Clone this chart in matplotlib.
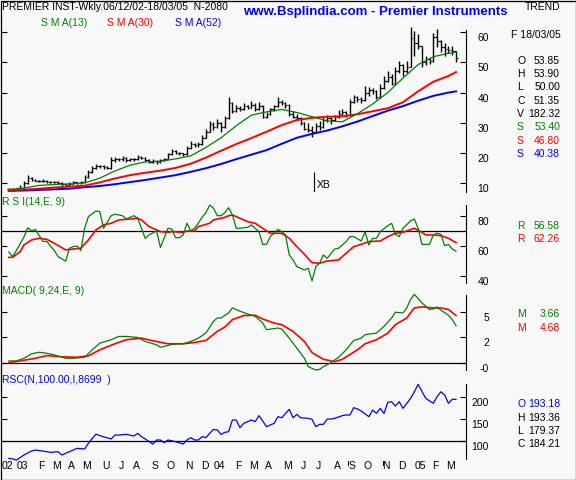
import numpy as np
import pandas as pd
import matplotlib
matplotlib.use("Agg")
import matplotlib.pyplot as plt
from matplotlib import transforms as mtrans
from matplotlib.patches import Rectangle

# ------------------------------------------------------------------ data
start_date = "2002-12-06"

open_ = [8.0, 8.0, 7.8, 8.2, 8.5, 10.0, 11.8, 11.0, 10.8, 10.5,
         10.6, 10.4, 10.2, 10.3, 10.0, 9.5, 9.2, 9.8, 10.2, 10.0,
         10.3, 12.0, 13.5, 15.0, 15.5, 15.8, 15.2, 15.0, 17.5, 18.0,
         17.8, 18.2, 17.5, 18.0, 17.9, 18.6, 18.3, 17.6, 17.0, 17.4,
         16.8, 17.5, 18.0, 19.5, 20.5, 20.0, 19.8, 19.5, 21.5, 23.0,
         22.5, 22.8, 25.0, 27.0, 29.5, 28.5, 30.0, 28.5, 31.5, 36.5,
         34.0, 35.0, 34.5, 35.5, 35.0, 36.0, 34.5, 35.5, 32.0, 33.0,
         34.5, 35.5, 37.0, 36.5, 36.0, 33.0, 32.0, 31.5, 30.0, 28.0,
         27.5, 27.0, 29.0, 28.5, 31.0, 31.5, 31.0, 32.0, 33.0, 33.5,
         32.5, 37.0, 38.5, 38.0, 37.5, 40.0, 41.0, 40.5, 38.5, 41.5,
         44.0, 45.0, 43.0, 47.0, 49.0, 47.0, 48.5, 58.0, 56.5, 55.5,
         50.0, 51.0, 50.5, 58.5, 57.0, 55.0, 54.5, 54.0, 53.85]
high = [8.3, 8.2, 8.5, 9.2, 10.5, 12.5, 12.0, 11.4, 11.0, 11.2,
        10.9, 10.6, 10.8, 10.5, 10.2, 9.8, 10.2, 10.6, 10.4, 10.8,
        12.6, 14.2, 15.6, 16.2, 16.0, 16.0, 15.6, 18.5, 18.6, 18.4,
        18.8, 18.5, 18.4, 18.3, 19.2, 19.0, 18.5, 17.8, 17.8, 17.6,
        17.9, 18.4, 20.0, 21.2, 20.8, 20.4, 20.0, 22.4, 23.8, 23.4,
        23.5, 25.8, 27.8, 30.6, 30.2, 31.2, 30.4, 32.2, 38.5, 37.0,
        36.0, 35.4, 36.6, 36.0, 37.2, 36.4, 36.8, 35.8, 33.6, 35.0,
        36.0, 38.6, 37.6, 36.8, 36.2, 34.0, 32.8, 31.8, 30.4, 30.0,
        29.0, 30.0, 30.6, 32.0, 32.4, 32.0, 32.6, 34.2, 34.4, 33.8,
        38.0, 39.2, 38.8, 38.5, 42.2, 42.0, 41.5, 41.0, 43.0, 45.5,
        47.0, 46.0, 48.5, 50.5, 49.5, 50.5, 61.8, 60.5, 59.5, 55.5,
        52.0, 51.5, 59.7, 61.0, 57.5, 56.4, 55.3, 55.5, 53.9]
low = [7.6, 7.5, 7.6, 8.0, 8.5, 9.8, 10.8, 10.5, 10.2, 10.3,
       10.1, 9.9, 10.0, 9.6, 9.1, 8.8, 9.0, 9.6, 9.7, 9.8,
       10.2, 11.8, 13.2, 14.6, 15.0, 14.8, 14.5, 14.8, 16.8, 17.2,
       17.4, 17.0, 17.2, 17.4, 17.6, 17.8, 17.2, 16.5, 16.6, 16.4,
       16.5, 17.2, 17.8, 19.2, 19.6, 19.2, 18.9, 19.3, 21.2, 22.0,
       22.0, 22.6, 24.8, 26.8, 27.6, 28.2, 27.0, 28.2, 31.2, 33.2,
       33.5, 33.8, 34.2, 34.4, 34.8, 34.0, 34.2, 31.5, 31.6, 32.6,
       34.0, 35.2, 35.8, 35.0, 32.2, 31.4, 30.8, 29.4, 27.5, 27.0,
       25.3, 26.6, 27.6, 28.2, 30.4, 29.6, 30.6, 31.6, 32.4, 31.8,
       32.2, 36.5, 36.8, 36.6, 37.2, 39.0, 39.5, 38.0, 38.2, 41.2,
       43.5, 42.5, 42.8, 46.5, 45.5, 46.5, 48.5, 52.0, 54.5, 48.6,
       49.2, 49.5, 50.2, 55.0, 53.5, 52.0, 53.1, 52.5, 50.0]
close = [8.0, 7.8, 8.2, 8.5, 10.0, 11.8, 11.0, 10.8, 10.5, 10.6,
         10.4, 10.2, 10.3, 10.0, 9.5, 9.2, 9.8, 10.2, 10.0, 10.3,
         12.0, 13.5, 15.0, 15.5, 15.8, 15.2, 15.0, 17.5, 18.0, 17.8,
         18.2, 17.5, 18.0, 17.9, 18.6, 18.3, 17.6, 17.0, 17.4, 16.8,
         17.5, 18.0, 19.5, 20.5, 20.0, 19.8, 19.5, 21.5, 23.0, 22.5,
         22.8, 25.0, 27.0, 29.5, 28.5, 30.0, 28.5, 31.5, 36.5, 34.0,
         35.0, 34.5, 35.5, 35.0, 36.0, 34.5, 35.5, 32.0, 33.0, 34.5,
         35.5, 37.0, 36.5, 36.0, 33.0, 32.0, 31.5, 30.0, 28.0, 27.5,
         27.0, 29.0, 28.5, 31.0, 31.5, 31.0, 32.0, 33.0, 33.5, 32.5,
         37.0, 38.5, 38.0, 37.5, 40.0, 41.0, 40.5, 38.5, 41.5, 44.0,
         45.0, 43.0, 47.0, 49.0, 47.0, 48.5, 58.0, 56.5, 55.5, 50.0,
         51.0, 50.5, 58.5, 57.0, 55.0, 54.5, 54.0, 53.85, 51.35]

sma_wk = [0, 4, 8, 12, 16, 20, 24, 28, 32, 36, 40, 44, 48, 52, 56, 60,
          64, 68, 72, 76, 80, 84, 88, 92, 96, 100, 104, 108, 112, 116, 118]
sma13 = [7.8, 8.3, 9.2, 9.5, 9.7, 10.0, 11.6, 14.0, 15.9, 17.0, 17.2, 18.0,
         19.0, 21.8, 25.0, 29.0, 32.5, 33.6, 34.4, 33.4, 32.0, 30.6, 30.3,
         33.0, 36.2, 40.0, 44.8, 49.3, 51.9, 53.0, 53.4]
sma30 = [7.6, 7.8, 8.1, 8.5, 8.8, 9.1, 10.2, 11.5, 12.6, 13.4, 14.1, 15.0,
         16.4, 18.4, 20.7, 22.9, 24.9, 27.0, 29.2, 30.9, 31.6, 32.0, 32.1,
         32.8, 33.8, 34.8, 36.8, 40.4, 43.6, 45.5, 46.8]
sma52 = [7.4, 7.5, 7.7, 7.9, 8.1, 8.6, 9.0, 9.6, 10.3, 11.0, 11.8, 12.6,
         13.7, 14.9, 16.3, 17.9, 19.4, 20.9, 23.0, 25.0, 26.3, 27.4, 28.8,
         30.4, 32.2, 34.0, 35.5, 37.3, 38.9, 40.0, 40.4]

rsi_wk = [0, 1, 2, 4, 5, 6, 7, 9, 10, 12, 13, 15, 16, 17, 18, 19, 20, 21, 23, 24,
          25, 27, 28, 30, 31, 33, 34, 35, 36, 37, 39, 40, 42, 43, 44, 45, 46, 47, 48, 49,
          50, 51, 52, 53, 54, 55, 56, 57, 58, 59, 60, 61, 63, 64, 66, 67, 68, 69, 71, 72,
          73, 74, 75, 76, 78, 79, 80, 81, 82, 83, 84, 86, 87, 89, 90, 91, 93, 94, 95, 96,
          97, 98, 100, 101, 102, 103, 104, 106, 107, 108, 109, 110, 111, 112, 113, 114,
          115, 116, 117, 118]
rsi = [56, 53, 57, 66, 72, 70, 71, 63, 63, 57, 53, 50, 58.5, 59.6, 60, 57, 71.7, 79.4, 83.1, 82.7,
       71.7, 80, 81, 80, 77.8, 80, 78.3, 71.7, 65, 67.3, 70, 59, 71.7, 71.2, 65.5, 65.5, 67.3, 75, 70, 71.7,
       75, 79, 82, 87, 85, 80, 80, 82, 85.3, 80.5, 71.7, 71.7, 72.3, 73.9, 69.5, 61.1, 61.1, 66.2, 71, 69.5,
       67.3, 54.1, 50.8, 46.4, 44.2, 45.3, 37, 46.4, 48.6, 54.1, 51.9, 58, 58.5, 62.9, 66.2, 66.2, 63.3, 69.5, 60.7, 65.1,
       65, 69.5, 73.4, 75, 67.7, 66.2, 71.7, 76.5, 77.8, 71.7, 61.1, 61.1, 61.1, 67.3, 68.4, 67.7,
       60.2, 61.1, 58, 56.58]
rsi_sig_wk = [0, 1, 3, 4, 6, 8, 10, 12, 14, 15, 17, 19, 21, 23, 25, 27, 29, 32, 34, 35,
              37, 40, 42, 43, 46, 47, 49, 50, 53, 54, 57, 58, 59, 61, 63, 65, 67, 69, 71, 72,
              74, 76, 78, 80, 82, 84, 87, 89, 91, 93, 95, 98, 100, 102, 104, 107, 109, 110, 112, 114,
              116, 118]
rsi_sig = [52.5, 52.5, 56.3, 60.7, 64.0, 65.1, 64.4, 61.8, 58.9, 57.4, 58.0, 58.5, 64.0, 70.6, 73.9, 75.0,
           77.2, 77.8, 78.3, 77.2, 72.8, 69.5, 69.0, 69.5, 69.0, 69.9, 69.9, 72.8, 75.0, 77.2, 78.9, 80.0,
           80.5, 78.3, 76.1, 75.0, 71.7, 68.4, 68.4, 68.4, 65.1, 59.6, 54.5, 49.0, 48.6, 50.1, 50.8, 55.2,
           59.6, 61.1, 62.9, 63.3, 66.2, 68.4, 69.0, 71.7, 69.0, 67.3, 67.3, 66.8, 65.1, 62.26]
rsi_ref = 70

macd_wk = [0, 2, 4, 6, 8, 10, 12, 15, 17, 20, 22, 24, 27, 29, 31, 34, 36, 39, 40, 42,
           43, 46, 48, 50, 52, 54, 55, 56, 58, 59, 61, 63, 65, 67, 68, 71, 72, 74, 76, 78,
           79, 81, 82, 83, 85, 87, 89, 91, 93, 94, 95, 97, 99, 101, 102, 104, 105, 106, 107, 109,
           111, 112, 113, 114, 116, 117, 118]
macd = [0.17, 0.17, 0.43, 0.87, 1.03, 0.93, 0.77, 0.43, 0.43, 0.53, 1.27, 1.93, 2.27, 2.6, 2.6, 2.5,
        2.1, 1.77, 1.53, 1.7, 1.83, 1.87, 2.1, 2.43, 2.93, 4.1, 4.43, 4.43, 4.93, 5.43, 5.1, 4.83,
        4.6, 3.93, 3.27, 3.43, 3.33, 2.43, 1.43, 0.43, -0.4, -0.73, -0.67, -0.4, 0.0, 0.53, 1.27, 2.2,
        2.43, 2.77, 2.83, 2.93, 3.6, 4.43, 5.0, 4.93, 5.43, 6.27, 6.77, 5.93, 5.27, 5.33, 5.53, 5.2,
        4.7, 4.27, 3.66]
macd_sig_wk = [0, 3, 7, 10, 13, 18, 21, 24, 28, 31, 35, 38, 42, 46, 49, 52, 55, 57, 59, 62,
               65, 67, 70, 72, 75, 78, 80, 83, 86, 88, 92, 94, 97, 100, 102, 105, 107, 109, 112, 114,
               116, 118]
macd_sig = [0.0, 0.17, 0.43, 0.7, 0.6, 0.53, 0.67, 1.27, 1.87, 2.27, 2.43, 2.17, 1.87, 1.87, 2.0, 2.2,
            3.1, 3.53, 4.27, 4.67, 4.7, 4.33, 3.93, 3.77, 3.1, 2.1, 1.0, 0.33, 0.1, 0.33, 1.27, 1.87,
            2.27, 2.93, 3.77, 4.43, 5.43, 5.53, 5.43, 5.43, 5.27, 4.68]

rsc_wk = [0, 1, 2, 4, 6, 7, 9, 11, 13, 14, 15, 17, 18, 20, 21, 22, 23, 24, 27, 28,
          29, 31, 33, 34, 35, 36, 38, 39, 40, 41, 42, 44, 46, 47, 48, 49, 50, 51, 52, 53,
          54, 55, 56, 57, 58, 59, 60, 61, 62, 64, 65, 66, 68, 69, 70, 71, 72, 74, 75, 76,
          77, 79, 80, 81, 82, 83, 84, 85, 86, 88, 89, 90, 91, 92, 93, 95, 96, 97, 98, 99,
          100, 101, 102, 103, 104, 106, 107, 108, 110, 112, 113, 114, 115, 116, 117, 118]
rsc = [59, 58, 55, 67, 76, 78.5, 76, 73, 74.6, 67, 70.8, 78.5, 82.3, 80.8, 94, 105, 115, 111.6, 104, 113,
       113, 114.6, 110.8, 117, 109.3, 104, 92.3, 101.6, 101.6, 95.4, 101.6, 97.7, 92.3, 101.6, 107, 101.6,
       101.6, 109.3, 107, 117, 126, 124.7, 114.6, 119.3, 120.8, 147.8, 147.8, 130, 140, 147.8,
       144, 157.8, 132.4, 136.2, 140, 155.4, 153, 172.4, 153, 160.8, 153, 151.6, 149.3, 132.4, 137.7,
       137.7, 150, 150, 151.6, 157.8, 159.3, 159.3, 176.2, 173.2, 168.5, 155.4, 170.8, 163, 174.7, 163,
       188.6, 190, 180, 190, 174.7, 197.8, 213, 230, 197.8, 186.3, 201.7, 213, 205.5, 186.3, 195.5, 195.5]
rsc_ref = 100

month_labels = ["02", "03", "F", "M", "A", "M", "U", "J", "A", "S", "O", "N", "D",
                "04", "F", "M", "A", "M", "J", "J", "A", "S", "O", "N", "D",
                "05", "F", "M"]
event_weeks = [19.8, 89.5, 98.7]
xb_week = 80.6

price_ticks = [10, 20, 30, 40, 50, 60]
rsi_ticks = [40, 60, 80]
macd_ticks = [0, 2.5, 5]
macd_tick_labels = ["-0", "2", "5"]
rsc_ticks = [100, 150, 200]

price_info = [("O", "53.85", "black"), ("H", "53.90", "black"), ("L", "50.00", "black"),
              ("C", "51.35", "black"), ("V", "182.32", "black"), ("S", "53.40", "#008000"),
              ("S", "46.80", "#ff0000"), ("S", "40.38", "#0000ff")]
rsi_info = [("R", "56.58", "#008000"), ("R", "62.26", "#ff0000")]
macd_info = [("M", "3.66", "#008000"), ("M", "4.68", "#ff0000")]
rsc_info = [("O", "193.18", "#0000ff"), ("H", "193.36", "black"),
            ("L", "179.37", "black"), ("C", "184.21", "black")]

# ------------------------------------------------------------------ style
W, H = 576, 480
BG = "#f8f8f8"
GREEN, RED, BLUE = "#008000", "#ff0000", "#0000ff"
FONT = ["Liberation Sans", "DejaVu Sans"]
plt.rcParams["font.family"] = FONT
FS = 7.5

fig = plt.figure(figsize=(W / 100, H / 100), dpi=100, facecolor=BG)

weeks = np.arange(len(close))
XLIM = (-2.06, 120.63)


def ftext(px, py, s, **kw):
    kw.setdefault("fontsize", FS)
    kw.setdefault("va", "center")
    return fig.text(px / W, 1 - py / H, s, **kw)


def make_axes(top, bottom, ylim, ticks, labels):
    ax = fig.add_axes([1 / W, 1 - bottom / H, 465 / W, (bottom - top) / H])
    ax.set_facecolor("none")
    ax.set_xlim(*XLIM)
    ax.set_ylim(*ylim)
    for s in ("top", "bottom", "left"):
        ax.spines[s].set_visible(False)
    ax.spines["right"].set_linewidth(0.8)
    ax.set_xticks([])
    ax.set_yticks(ticks)
    ax.tick_params(axis="y", direction="in", length=4, width=0.8,
                   left=True, right=True, labelleft=False, labelright=False)
    tr = mtrans.offset_copy(ax.get_yaxis_transform(), fig=fig, x=23, y=-6, units="dots")
    for t, lab in zip(ticks, labels):
        ax.text(1.0, t, lab, transform=tr, ha="right", va="center",
                fontsize=FS, clip_on=False)
    return ax


# ---------------------------------------------------------------- price panel
axp = make_axes(30, 192, (7.01, 60.76), price_ticks, [str(t) for t in price_ticks])
axp.vlines(weeks, low, high, color="black", lw=1.0, clip_on=False)
axp.hlines(open_, weeks - 0.45, weeks, color="black", lw=0.9, clip_on=False)
axp.hlines(close, weeks, weeks + 0.45, color="black", lw=0.9, clip_on=False)
axp.plot(sma_wk, sma52, color=BLUE, lw=1.4)
axp.plot(sma_wk, sma30, color=RED, lw=1.4)
axp.plot(sma_wk, sma13, color=GREEN, lw=0.9)
axp.vlines([xb_week], 7.1, 13.7, color="black", lw=0.8)
axp.text(xb_week, 9.3, "XB", fontsize=FS, va="center", ha="left",
         transform=mtrans.offset_copy(axp.transData, fig=fig, x=2, y=0, units="dots"))

# ---------------------------------------------------------------- RSI panel
axr = make_axes(205, 283, (35.58, 87.06), rsi_ticks, [str(t) for t in rsi_ticks])
axr.axhline(rsi_ref, color="black", lw=0.9)
axr.plot(rsi_sig_wk, rsi_sig, color=RED, lw=1.2, clip_on=False)
axr.plot(rsi_wk, rsi, color=GREEN, lw=0.9, clip_on=False)

# ---------------------------------------------------------------- MACD panel
axm = make_axes(295, 370, (-0.73, 6.71), macd_ticks, macd_tick_labels)
axm.axhline(0, color="black", lw=0.9)
axm.plot(macd_sig_wk, macd_sig, color=RED, lw=1.2, clip_on=False)
axm.plot(macd_wk, macd, color=GREEN, lw=0.9, clip_on=False)

# ---------------------------------------------------------------- RSC panel
axs = make_axes(384, 459, (57.7, 230.9), rsc_ticks, [str(t) for t in rsc_ticks])
axs.axhline(rsc_ref, color="black", lw=0.9)
axs.plot(rsc_wk, rsc, color=BLUE, lw=0.9, clip_on=False)

# date labels
dates = pd.date_range(start_date, periods=len(close), freq="7D")
month_key = dates.year * 12 + dates.month
first_idx = [int(np.argmax(month_key == k)) for k in pd.unique(month_key)]
dtr = mtrans.offset_copy(axs.get_xaxis_transform(), fig=fig, x=-1.5, y=-7, units="dots")
for idx, lab in zip(first_idx, month_labels):
    axs.text(idx, 0, lab, transform=dtr, ha="center", va="center", fontsize=FS, clip_on=False)
for w in event_weeks:
    axs.plot([w, w], [-0.027, -0.08], color="black", lw=0.7,
             transform=axs.get_xaxis_transform(), clip_on=False)

# ---------------------------------------------------------------- texts
ftext(2, 7, "PREMIER INST-Wkly.06/12/02-18/03/05  N-2080")
ftext(243, 11.5, "www.Bsplindia.com - Premier Instruments", color=BLUE,
      fontsize=9.5, fontweight="bold")
ftext(525, 7, "TREND")
ftext(41, 23, "S M A(13)", color=GREEN)
ftext(107, 23, "S M A(30)", color=RED)
ftext(175, 23, "S M A(52)", color=BLUE)
ftext(511, 34.5, "F 18/03/05")

ftext(2, 202, "R S I(14,E, 9)", color=GREEN)
ftext(2, 291, "MACD( 9,24,E, 9)", color=GREEN)
ftext(2, 380, "RSC(N,100.00,I,8699  )", color=BLUE)


def info_block(rows, y0, dy):
    for i, (letter, val, col) in enumerate(rows):
        y = y0 + i * dy
        ftext(517, y, letter, color=col)
        ftext(560, y, val, color=col, ha="right")


info_block(price_info, 60.7, 13.3)
info_block(rsi_info, 225.7, 13.3)
info_block(macd_info, 314.3, 13.7)
info_block(rsc_info, 404.3, 13.3)

# outer frame
fig.add_artist(Rectangle((0.5 / W, 0.5 / H), 575 / W, 479 / H, transform=fig.transFigure,
                         fill=False, edgecolor="black", lw=0.9))

fig.savefig("out.png", dpi=100, facecolor=BG)
